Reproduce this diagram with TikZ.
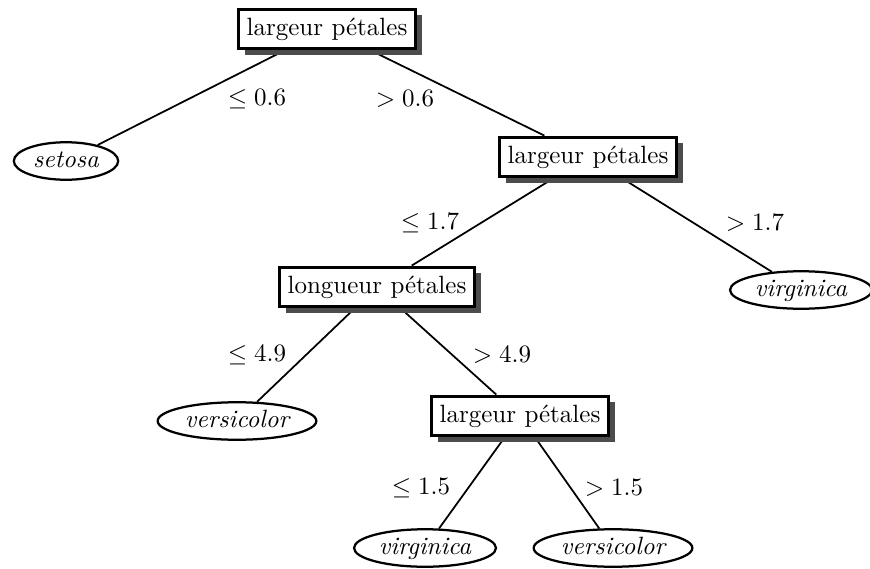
\documentclass[tikz,border=0pt]{standalone}
\usepackage{tikz}
\usetikzlibrary{shapes.geometric,shadows,backgrounds}
\tikzset{
  test/.style={draw=black,line width=1.3pt,fill=white,text=black,
               inner xsep=3.2pt,inner ysep=3.4pt,text height=7pt,text depth=2pt,
               drop shadow={shadow xshift=2.6pt,shadow yshift=-2.4pt,
                            fill=black!70,opacity=1}},
  leaf/.style={draw=black,line width=.9pt,fill=white,ellipse,font=\itshape,
               inner xsep=1.6pt,inner ysep=.8pt,text height=7pt,text depth=2pt},
  branch/.style={black,line width=.7pt},
  cond/.style={text=black,inner sep=0pt},
}
\begin{document}
\begin{tikzpicture}[x=.01406cm,y=-.01406cm]
  \useasboundingbox (0,0) rectangle (870,568);
  % tests
  \node[test] (root) at (327,29) {largeur p\'etales};
  \node[test] (pw2) at (588,157) {largeur p\'etales};
  \node[test] (pl) at (377,287) {longueur p\'etales};
  \node[test] (pw3) at (520,416) {largeur p\'etales};
  % leaves
  \node[leaf] (setosa) at (66,161) {setosa};
  \node[leaf] (virg1) at (801,290) {virginica};
  \node[leaf] (vers1) at (237,421) {versicolor};
  \node[leaf] (virg2) at (425,548) {virginica};
  \node[leaf] (vers2) at (613,548) {versicolor};
  % branches
  \begin{pgfonlayer}{background}
    \draw[branch] (root) -- (setosa);
    \draw[branch] (root) -- (pw2);
    \draw[branch] (pw2) -- (pl);
    \draw[branch] (pw2) -- (virg1);
    \draw[branch] (pl) -- (vers1);
    \draw[branch] (pl) -- (pw3);
    \draw[branch] (pw3) -- (virg2);
    \draw[branch] (pw3) -- (vers2);
  \end{pgfonlayer}
  % thresholds
  \node[cond] (c1) at (257,99) {$\leq 0.6$};
  \node[cond] (c2) at (405,99) {$> 0.6$};
  \node[cond] (c3) at (430,223) {$\leq 1.7$};
  \node[cond] (c4) at (755,223) {$> 1.7$};
  \node[cond] (c5) at (257,355) {$\leq 4.9$};
  \node[cond] (c6) at (502,355) {$> 4.9$};
  \node[cond] (c7) at (421,488) {$\leq 1.5$};
  \node[cond] (c8) at (614,488) {$> 1.5$};
\end{tikzpicture}
\end{document}
